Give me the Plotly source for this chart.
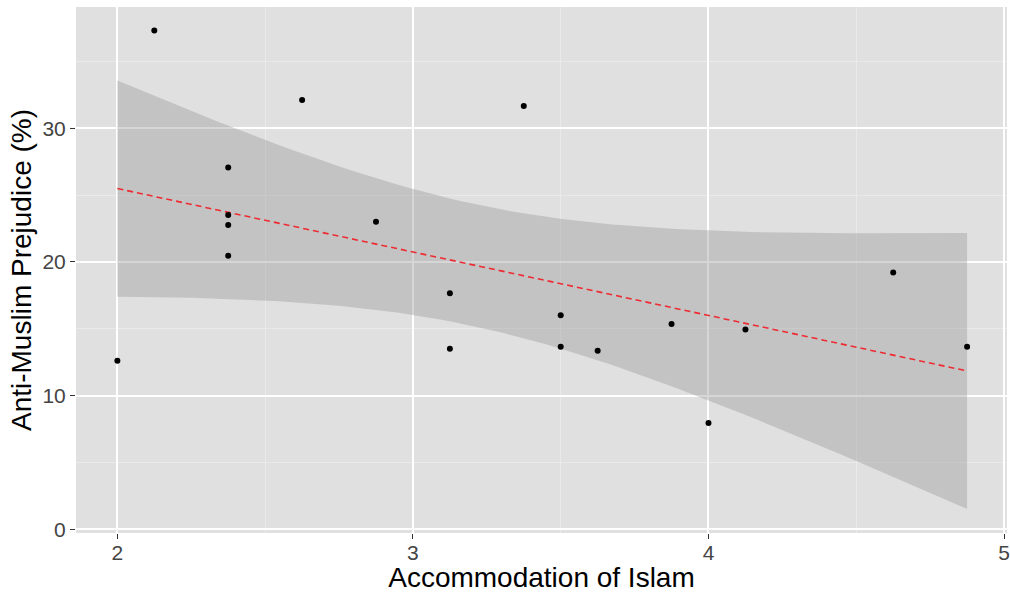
import numpy as np
import plotly.graph_objects as go

# Accommodation of Islam score vs. share with anti-Muslim prejudice
accommodation = [2.0, 2.125, 2.625, 2.375, 2.375, 2.375, 2.375, 2.875, 3.375,
                 3.125, 3.125, 3.5, 3.5, 3.625, 3.875, 4.0, 4.125, 4.625, 4.875]
prejudice = [12.6, 37.3, 32.1, 27.05, 23.5, 22.75, 20.45, 23.0, 31.65,
             17.65, 13.5, 16.0, 13.65, 13.35, 15.35, 7.95, 14.95, 19.2, 13.65]

x_ticks = [2, 3, 4, 5]
y_ticks = [0, 10, 20, 30]

# Linear model fit with 99% confidence band (geom_smooth(method="lm", level=0.99))
x = np.array(accommodation)
y = np.array(prejudice)
n = len(x)
slope, intercept = np.polyfit(x, y, 1)
resid = y - (intercept + slope * x)
s = np.sqrt(np.sum(resid ** 2) / (n - 2))
sxx = np.sum((x - x.mean()) ** 2)
T_CRIT = 2.898231  # t(0.995, df = 17)

grid = np.linspace(x.min(), x.max(), 80)
fit = intercept + slope * grid
se = s * np.sqrt(1.0 / n + (grid - x.mean()) ** 2 / sxx)
upper = fit + T_CRIT * se
lower = fit - T_CRIT * se

fig = go.Figure()

fig.add_trace(go.Scatter(
    x=np.concatenate([grid, grid[::-1]]),
    y=np.concatenate([upper, lower[::-1]]),
    fill="toself", fillcolor="rgba(153,153,153,0.4)",
    line=dict(width=0), mode="lines", hoverinfo="skip", showlegend=False,
))

fig.add_trace(go.Scatter(
    x=grid, y=fit, mode="lines",
    line=dict(color="#EE2A32", width=1.6, dash="6px,4px"),
    showlegend=False,
))

fig.add_trace(go.Scatter(
    x=accommodation, y=prejudice, mode="markers",
    marker=dict(color="black", size=6),
    showlegend=False,
))

tick_font = dict(family="Liberation Sans, Arial, sans-serif", size=21, color="#444444")
title_font = dict(family="Liberation Sans, Arial, sans-serif", size=28, color="black")

fig.update_layout(
    width=1010, height=593,
    margin=dict(l=76, r=0, t=7, b=60),
    paper_bgcolor="white",
    plot_bgcolor="#E0E0E0",
    xaxis=dict(
        range=[1.86, 5.010],
        tickvals=x_ticks, ticktext=[str(v) for v in x_ticks],
        ticks="outside", ticklen=5, tickcolor="#333333", tickwidth=1,
        tickfont=tick_font,
        ticklabelstandoff=-4,
        ticklabeloverflow="allow",
        showgrid=True, gridcolor="white", gridwidth=1.5,
        minor=dict(dtick=0.5, showgrid=True, gridcolor="#EAEAEA", gridwidth=0.8),
        zeroline=False, showline=False,
        title=dict(text="Accommodation of Islam", font=title_font, standoff=0),
    ),
    yaxis=dict(
        range=[-0.277, 39.06],
        tickvals=y_ticks, ticktext=[str(v) for v in y_ticks],
        ticks="outside", ticklen=5, tickcolor="#333333", tickwidth=1,
        tickfont=tick_font,
        showgrid=True, gridcolor="white", gridwidth=1.5,
        minor=dict(dtick=5, showgrid=True, gridcolor="#EAEAEA", gridwidth=0.8),
        zeroline=False, showline=False,
        title=dict(text="Anti-Muslim Prejudice (%)", font=title_font, standoff=2),
    ),
)

fig.write_html("out.html")
